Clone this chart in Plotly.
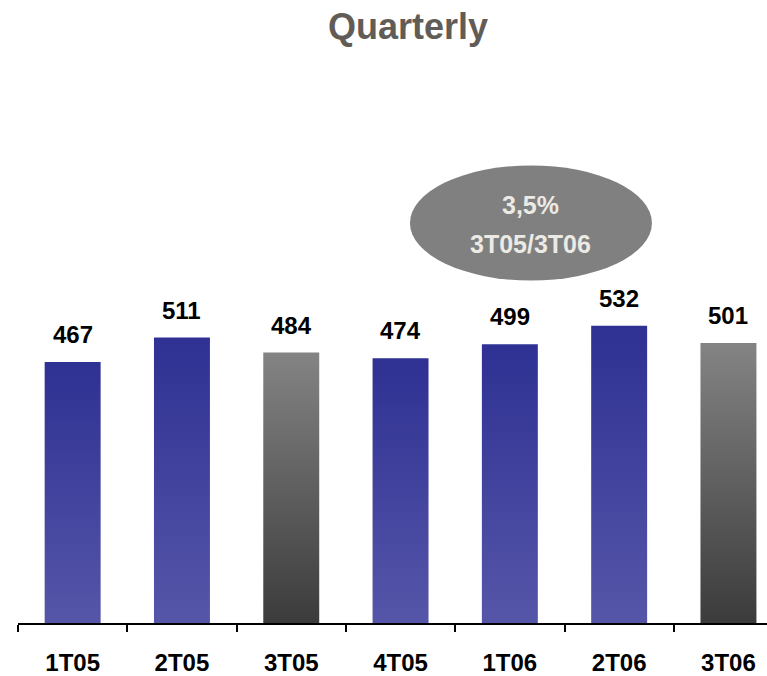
import plotly.graph_objects as go

# Quarterly values
quarters = ["1T05", "2T05", "3T05", "4T05", "1T06", "2T06", "3T06"]
values = [467, 511, 484, 474, 499, 532, 501]
highlight = [False, False, True, False, False, False, True]
growth_label = "3,5%"
growth_period = "3T05/3T06"

FONT = "Liberation Sans, Arial, sans-serif"
BAR_HALF = 0.256

blue_scale = [[0, "#5656A9"], [1, "#2F3193"]]
grey_scale = [[0, "#3A3A3A"], [1, "#838383"]]

fig = go.Figure()

# Each bar is a filled rectangle so it can carry a vertical gradient
for i, (q, v, hl) in enumerate(zip(quarters, values, highlight)):
    fig.add_trace(go.Scatter(
        x=[i - BAR_HALF, i - BAR_HALF, i + BAR_HALF, i + BAR_HALF, i - BAR_HALF],
        y=[0, v, v, 0, 0],
        mode="lines",
        line=dict(width=0),
        fill="toself",
        fillgradient=dict(type="vertical",
                          colorscale=grey_scale if hl else blue_scale,
                          start=0, stop=v),
        hoverinfo="skip",
        showlegend=False,
        name=q,
    ))
    fig.add_annotation(
        x=i, y=v, xref="x", yref="y",
        text=str(v), showarrow=False,
        yanchor="bottom", yshift=12,
        font=dict(family=FONT, size=24, color="#000000", weight="bold"),
    )

# Growth bubble
fig.add_shape(
    type="circle", xref="x", yref="y",
    x0=3.086, x1=5.30, y0=613, y1=819,
    fillcolor="#808080", line=dict(width=0), layer="above",
)
for txt, ypos in [(growth_label, 749), (growth_period, 678)]:
    fig.add_annotation(
        x=4.193, y=ypos, xref="x", yref="y",
        text=txt, showarrow=False,
        font=dict(family=FONT, size=25, color="#ECEAE4", weight="bold"),
        align="center",
    )

boundaries = [i + 0.5 for i in range(-1, len(quarters))]

fig.update_layout(
    width=767, height=676,
    margin=dict(l=18, r=0, t=80, b=48),
    paper_bgcolor="white", plot_bgcolor="white",
    title=dict(
        text="Quarterly", x=408 / 767, xanchor="center",
        y=1 - 26 / 676, yanchor="middle",
        font=dict(family=FONT, size=36, color="#625C57", weight="bold"),
    ),
    xaxis=dict(
        range=[-0.5, -0.5 + 749 / 109.3],
        tickvals=list(range(len(quarters))),
        ticktext=quarters,
        ticks="", showgrid=False, zeroline=False,
        showline=True, linecolor="#000000", linewidth=1.5,
        ticklabelstandoff=17,
        tickfont=dict(family=FONT, size=24, color="#000000", weight="bold"),
        minor=dict(tickvals=boundaries, ticks="outside", ticklen=7,
                   tickcolor="#000000", tickwidth=1.5, showgrid=False),
        fixedrange=True,
    ),
    yaxis=dict(
        range=[0, 972], visible=False, showgrid=False, zeroline=False,
        fixedrange=True,
    ),
)

fig.write_html("out.html")
